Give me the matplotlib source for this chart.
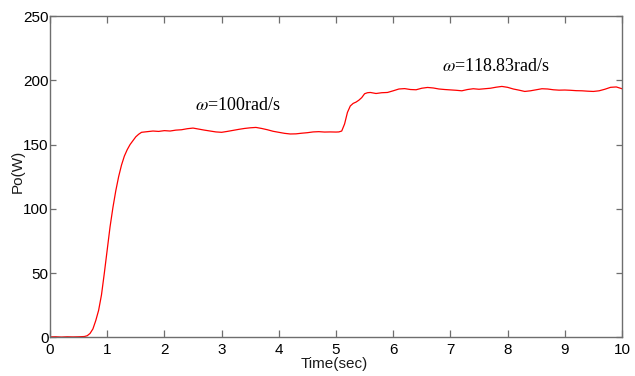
import matplotlib
matplotlib.use("Agg")
import matplotlib.pyplot as plt
from matplotlib import font_manager

# Output power response to a speed step
time_s = [0.0, 0.1, 0.2, 0.3, 0.4, 0.5, 0.6, 0.65, 0.7, 0.75, 0.8, 0.85, 0.9, 0.95,
          1.0, 1.05, 1.1, 1.15, 1.2, 1.25, 1.3, 1.35, 1.4, 1.45, 1.5, 1.55, 1.6,
          1.7, 1.8, 1.9, 2.0, 2.1, 2.2, 2.3, 2.4, 2.5, 2.6, 2.7, 2.8, 2.9, 3.0,
          3.1, 3.2, 3.3, 3.4, 3.5, 3.6, 3.7, 3.8, 3.9, 4.0, 4.1, 4.2, 4.3, 4.4,
          4.5, 4.6, 4.7, 4.8, 4.9, 5.0, 5.05, 5.1, 5.15, 5.2, 5.25, 5.3, 5.35,
          5.4, 5.45, 5.5, 5.55, 5.6, 5.7, 5.8, 5.9, 6.0, 6.1, 6.2, 6.3, 6.4,
          6.5, 6.6, 6.7, 6.8, 6.9, 7.0, 7.1, 7.2, 7.3, 7.4, 7.5, 7.6, 7.7,
          7.8, 7.9, 8.0, 8.1, 8.2, 8.3, 8.4, 8.5, 8.6, 8.7, 8.8, 8.9, 9.0,
          9.1, 9.2, 9.3, 9.4, 9.5, 9.6, 9.7, 9.8, 9.9, 10.0]
power_w = [0.3, 0.4, 0.2, 0.4, 0.3, 0.4, 0.6, 1.2, 3.0, 6.5, 13.0, 21.0, 33.0, 50.0,
           68.0, 86.0, 101.0, 114.0, 125.0, 134.0, 141.0, 146.0, 150.0, 153.0, 156.0, 158.0, 159.5,
           160.0, 160.5, 160.2, 160.8, 160.5, 161.2, 161.5, 162.3, 162.8, 162.0, 161.2, 160.5, 159.8, 159.5,
           160.2, 161.0, 161.8, 162.5, 163.0, 163.3, 162.5, 161.5, 160.3, 159.5, 158.7, 158.2, 158.3, 158.8,
           159.2, 159.8, 160.0, 159.7, 159.8, 159.7, 159.8, 160.5, 166.0, 175.0, 180.0, 182.0, 183.0,
           184.5, 186.5, 189.5, 190.3, 190.5, 189.7, 190.3, 190.5, 191.8, 193.2, 193.5, 192.8, 192.6,
           193.8, 194.4, 194.0, 193.2, 192.8, 192.5, 192.2, 191.8, 192.8, 193.4, 193.0, 193.4, 193.8,
           194.6, 195.2, 194.5, 193.2, 192.3, 191.3, 191.8, 192.6, 193.4, 193.2, 192.6, 192.3, 192.4,
           192.2, 191.9, 191.8, 191.5, 191.3, 191.8, 193.0, 194.5, 194.8, 193.4]

x_ticks = list(range(0, 11))
y_ticks = [0, 50, 100, 150, 200, 250]
x_label = "Time(sec)"
y_label = "Po(W)"
notes = [(r"$\omega$=100rad/s", 2.53, 177.0),
         (r"$\omega$=118.83rad/s", 6.85, 207.0)]

names = {f.name for f in font_manager.fontManager.ttflist}
sans = "Liberation Sans Narrow" if "Liberation Sans Narrow" in names else "Liberation Sans"

plt.rcParams["mathtext.fontset"] = "stix"

fig = plt.figure(figsize=(6.35, 3.76), dpi=100)
ax = fig.add_axes([50 / 635, 1 - 337.3 / 376, 572 / 635, 321.3 / 376])

ax.plot(time_s, power_w, color="#ff0000", lw=0.9)

ax.set_xlim(0, 10)
ax.set_ylim(0, 250)
ax.set_xticks(x_ticks)
ax.set_yticks(y_ticks)

edge = "#6e6e6e"
for s in ax.spines.values():
    s.set_color(edge)
    s.set_linewidth(1.0)
ax.tick_params(axis="both", direction="in", top=True, right=True,
               color=edge, width=0.9, labelsize=11, labelcolor="black")
ax.tick_params(axis="x", length=5, pad=4.0)
ax.tick_params(axis="y", length=4, pad=1)
for lab in ax.get_xticklabels() + ax.get_yticklabels():
    lab.set_fontfamily(sans)

ax.set_xlabel(x_label, fontfamily=sans, fontsize=11, color="#1a1a1a")
ax.set_ylabel(y_label, fontfamily=sans, fontsize=11, color="#1a1a1a")
ax.xaxis.set_label_coords(0.4965, -0.062)
ax.yaxis.set_label_coords(-0.045, 0.516)

for txt, x, y in notes:
    ax.text(x, y, txt, fontfamily="Liberation Serif", fontsize=13,
            color="black", ha="left", va="baseline")

fig.savefig("out.png", dpi=100)
